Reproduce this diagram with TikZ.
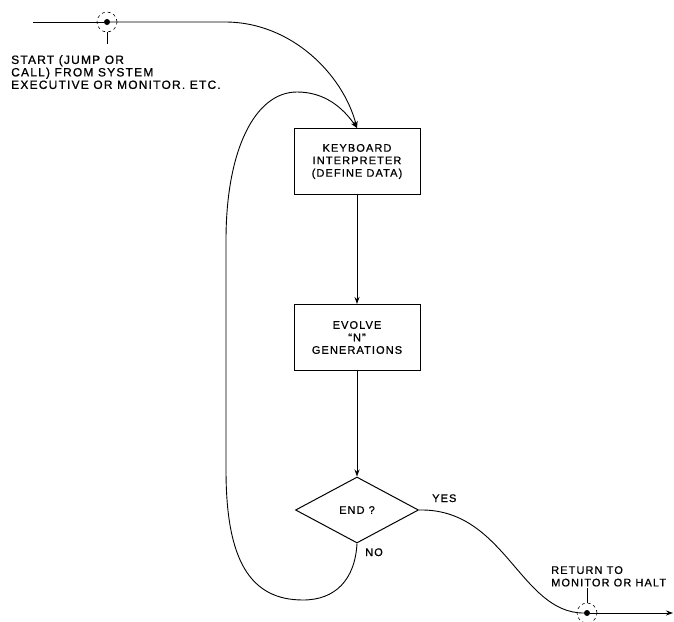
\documentclass[tikz,border=0pt]{standalone}
\usepackage{fontspec}
\setmainfont{Liberation Sans}[LetterSpace=10,FakeBold=0.8]
\usetikzlibrary{arrows.meta,shapes.geometric}

\begin{document}
\begin{tikzpicture}[x=1pt,y=-1pt,every node/.style={font=\fontsize{11}{12.5}\selectfont},
  box/.style={draw,line width=1pt,minimum width=126pt,minimum height=66pt,align=center,inner sep=2pt},
  test/.style={draw,line width=1pt,diamond,aspect=1.86,minimum width=123pt,minimum height=66pt,inner sep=0pt},
  arr/.style={-{Stealth[length=7pt,width=5pt]},line width=0.9pt},
  ln/.style={line width=0.9pt},
  dot/.style={circle,fill,minimum size=6pt,inner sep=0pt},
  ring/.style={circle,draw,dashed,line width=0.6pt,minimum size=20pt,inner sep=0pt},
  lbl/.style={inner sep=0pt,align=left},
  note/.style={lbl,font=\fontsize{12}{12.5}\selectfont}]
  \useasboundingbox (0,0) rectangle (674,621);
  \node[box] (kb) at (357,161.5) {KEYBOARD\\INTERPRETER\\(DEFINE DATA)};
  \node[box] (evo) at (357,337.5) {EVOLVE\\``N''\\GENERATIONS};
  \node[test] (dia) at (357,510) {END ?};
  \node[dot] (sdot) at (107,22) {};
  \node[ring] (sring) at (107,22) {};
  \node[dot] (rdot) at (587,613) {};
  \node[ring] (rring) at (587,613) {};
  \coordinate (in) at (33,22);
  \coordinate (stick) at (107,44);
  \coordinate (rtick) at (587,588);
  \coordinate (out) at (673,613);
  \node[note,anchor=north west] (start) at (11,55) {START (JUMP OR\\CALL) FROM SYSTEM\\EXECUTIVE OR MONITOR. ETC.};
  \node[lbl,anchor=north west] (ret) at (551,566) {RETURN TO\\MONITOR OR HALT};
  \node[lbl,anchor=base west] (yes) at (432,502) {YES};
  \node[lbl,anchor=base west] (no) at (365,556) {NO};
  \draw[ln] (sring.south) -- (stick);
  \draw[ln] (rring.north) -- (rtick);
  \draw[ln] (in) -- (sdot);
  \draw[arr] (sdot) -- (225,22) .. controls (292,22) and (343,75) .. (kb.north);
  \draw[arr] (kb) -- (evo);
  \draw[arr] (evo) -- (dia);
  \draw[arr] (dia.south) .. controls (355,580) and (335,600) .. (303,600)
    .. controls (250,600) and (226,560) .. (226,470) -- (226,240)
    .. controls (226,150) and (255,92) .. (297,92)
    .. controls (325,92) and (343,108) .. (kb.north);
  \draw[ln] (dia.east) .. controls (505,508) and (520,613) .. (rdot);
  \draw[arr] (rdot) -- (out);
\end{tikzpicture}
\end{document}
